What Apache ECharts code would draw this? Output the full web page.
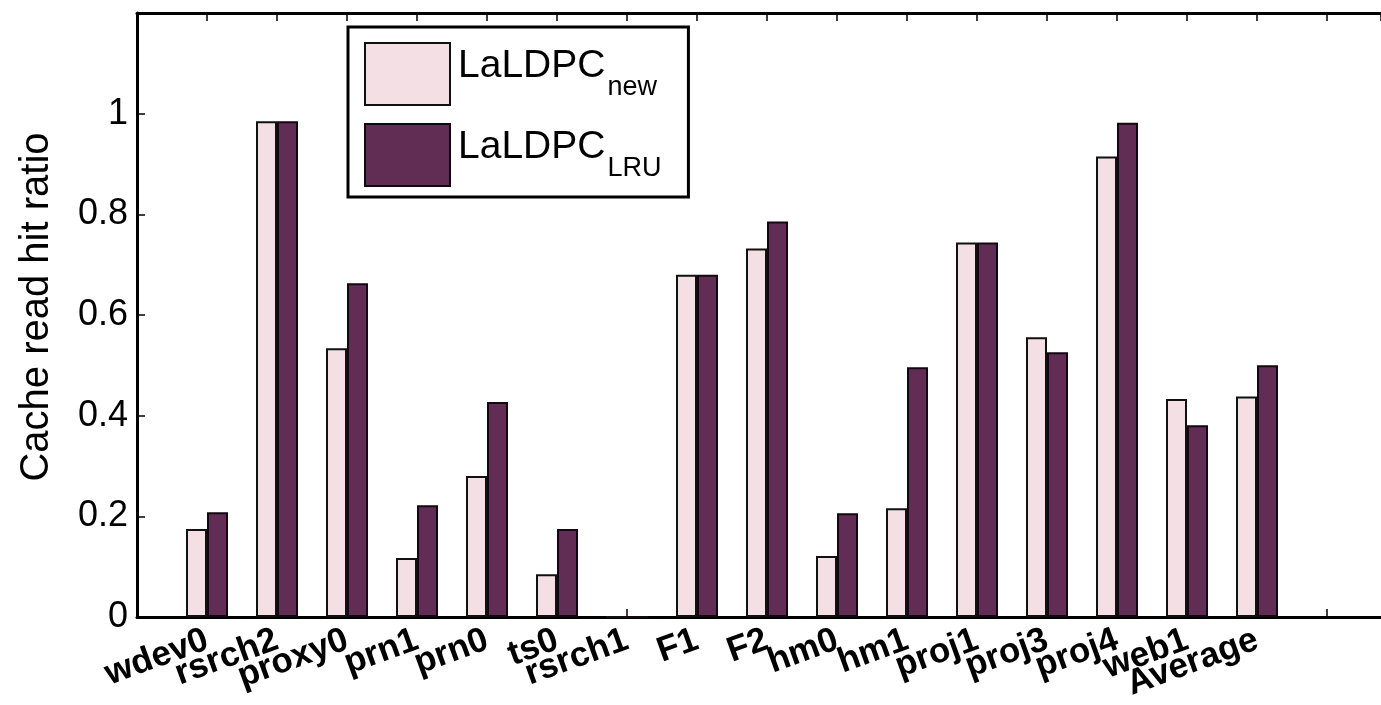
<!DOCTYPE html>
<html>
<head>
<meta charset="utf-8">
<script src="https://cdn.jsdelivr.net/npm/echarts@6/dist/echarts.min.js"></script>
<style>
  html, body { margin: 0; padding: 0; background: #fff; }
  #chart { width: 1381px; height: 705px; }
</style>
</head>
<body>
<div id="chart"></div>
<script>
// traces, in order along the x axis
const categories = ['wdev0', 'rsrch2', 'proxy0', 'prn1', 'prn0', 'ts0', 'rsrch1', 'F1', 'F2',
  'hm0', 'hm1', 'proj1', 'proj3', 'proj4', 'web1', 'Average'];
// cache read hit ratio
const newValues = [0.175, 0.985, 0.534, 0.117, 0.28, 0.085, 0, 0.68, 0.732, 0.121, 0.216, 0.744, 0.556, 0.915, 0.433, 0.438];
const lruValues = [0.208, 0.985, 0.663, 0.222, 0.427, 0.175, 0, 0.68, 0.786, 0.206, 0.496, 0.744, 0.526, 0.982, 0.381, 0.5];
const yTicks = [0, 0.2, 0.4, 0.6, 0.8, 1];

const chart = echarts.init(document.getElementById('chart'));
const fontColor = '#000';
const fontFamily = '"Liberation Sans", Arial, sans-serif';
const xMax = 1244 / 70; // axis runs past the right edge of the picture

const toPoints = (vals) => vals.map((v, i) => [i + 1, v]);

const tickLabel = (v) => {
  const i = Math.round(v) - 1;
  return i >= 0 && i < categories.length ? categories[i] : '';
};

const tickStyle = { show: true, inside: true, length: 8, lineStyle: { color: '#000', width: 1.5 } };

const option = {
  animation: false,
  backgroundColor: '#fff',
  grid: {
    left: 137,
    top: 13,
    right: 0,
    height: 604,
    show: false
  },
  legend: {
    orient: 'vertical',
    left: 348,
    top: 27,
    padding: [15, 27, 10, 16],
    itemGap: 17,
    itemWidth: 85,
    itemHeight: 62,
    icon: 'rect',
    borderColor: '#000',
    borderWidth: 3,
    borderRadius: 0,
    backgroundColor: '#fff',
    selectedMode: false,
    data: ['new', 'LRU'],
    formatter: (name) => `{a|LaLDPC}{b|${name}}`,
    textStyle: {
      fontFamily: fontFamily,
      color: fontColor,
      rich: {
        a: { fontSize: 39, fontFamily: fontFamily, color: fontColor, lineHeight: 54, verticalAlign: 'top', padding: [0, 0, 0, 3] },
        b: { fontSize: 27, fontFamily: fontFamily, color: fontColor, lineHeight: 54, verticalAlign: 'bottom', padding: [0, 0, 0, 2] }
      }
    }
  },
  xAxis: [
    {
      type: 'value',
      min: 0,
      max: xMax,
      interval: 1,
      axisLine: { show: true, lineStyle: { color: '#000', width: 3 } },
      axisTick: tickStyle,
      splitLine: { show: false },
      axisLabel: {
        rotate: 20,
        margin: 22,
        color: fontColor,
        fontFamily: fontFamily,
        fontSize: 35,
        fontWeight: 'bold',
        formatter: tickLabel,
        showMinLabel: true,
        showMaxLabel: false
      }
    },
    {
      type: 'value',
      position: 'top',
      min: 0,
      max: xMax,
      interval: 1,
      axisLine: { show: true, onZero: false, lineStyle: { color: '#000', width: 3 } },
      axisTick: tickStyle,
      splitLine: { show: false },
      axisLabel: { show: false }
    }
  ],
  yAxis: {
    type: 'value',
    min: 0,
    max: 1.2,
    interval: 0.2,
    name: 'Cache read hit ratio',
    nameLocation: 'middle',
    nameGap: 80,
    nameTextStyle: { color: fontColor, fontFamily: fontFamily, fontSize: 40, padding: [0, 0, 0, 16] },
    axisLine: { show: true, lineStyle: { color: '#000', width: 3 } },
    axisTick: tickStyle,
    splitLine: { show: false },
    axisLabel: {
      color: fontColor,
      fontFamily: fontFamily,
      fontSize: 36,
      margin: 9,
      formatter: (v) => {
        const t = yTicks.find(x => Math.abs(x - v) < 1e-6);
        return t === undefined ? '' : String(t);
      }
    }
  },
  series: [
    {
      name: 'new',
      type: 'bar',
      data: toPoints(newValues),
      barWidth: 21,
      barGap: '0%',
      itemStyle: { color: '#f3dfe4', borderColor: '#111', borderWidth: 2 }
    },
    {
      name: 'LRU',
      type: 'bar',
      data: toPoints(lruValues),
      barWidth: 21,
      barGap: '0%',
      itemStyle: { color: '#622d55', borderColor: '#140810', borderWidth: 2 }
    }
  ]
};

chart.setOption(option);
</script>
</body>
</html>
